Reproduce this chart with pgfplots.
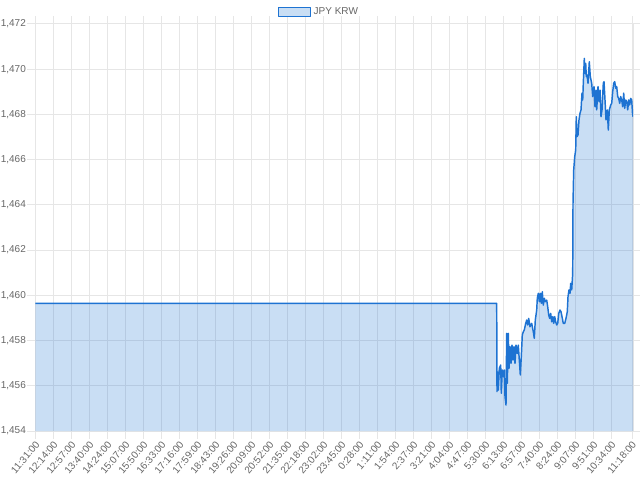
\documentclass[border=0pt]{standalone}
\usepackage{fontspec}
\setmainfont{Liberation Sans}
\usepackage{pgfplots}
\usepackage{pgfplotstable}
\pgfplotsset{compat=1.18}

\definecolor{lineblue}{RGB}{30,115,210}
\definecolor{gridgray}{RGB}{230,230,230}
\definecolor{labelgray}{RGB}{102,102,102}

% x = position along the category axis (tick every 18 units), y = JPY KRW rate
\pgfplotstableread{
x y
0 1459.65
461.2 1459.65
461.5 1455.74
461.8 1456.62
462.8 1455.81
463.8 1456.77
465.2 1456.92
465.8 1455.67
466.8 1456.70
467.8 1456.40
468.8 1456.70
469.5 1455.52
470.5 1455.15
471.2 1458.32
471.8 1456.11
472.8 1458.32
473.5 1456.77
474.5 1457.73
475.5 1456.99
476.5 1457.80
477.5 1457.14
478.5 1457.73
479.5 1456.99
480.5 1457.80
481.8 1457.43
482.8 1457.80
483.8 1457.14
484.8 1456.48
485.8 1457.29
486.8 1458.25
487.8 1458.39
488.8 1458.47
490.2 1458.76
491.2 1458.91
492.2 1458.69
493.2 1458.98
494.5 1458.61
496.2 1458.76
497.8 1458.39
498.8 1458.10
499.8 1458.91
501.2 1459.35
501.8 1459.87
502.8 1460.09
503.8 1459.72
504.8 1460.09
505.8 1459.65
506.8 1460.16
507.8 1459.57
508.8 1459.87
509.8 1459.72
511.2 1459.79
512.2 1459.50
513.2 1459.13
514.2 1458.98
515.2 1459.20
516.2 1458.83
517.2 1459.06
518.2 1458.76
519.2 1459.06
520.2 1458.83
521.2 1458.69
522.2 1458.76
523.2 1459.20
524.5 1459.35
525.5 1459.28
526.5 1459.06
527.8 1458.76
529.2 1458.76
530.5 1458.98
531.8 1459.28
532.5 1459.94
533.5 1460.24
534.5 1460.09
535.2 1460.53
536.2 1460.24
537.2 1460.97
537.5 1464.07
538.2 1465.54
539.2 1466.13
540.2 1466.43
540.8 1467.90
541.5 1467.02
542.5 1467.09
543.5 1467.76
544.5 1468.05
545.5 1468.20
546.5 1468.94
547.2 1468.64
547.8 1469.38
548.8 1470.48
549.5 1469.82
550.2 1470.26
550.8 1469.67
551.5 1469.75
552.5 1469.38
553.8 1470.33
554.8 1469.67
556.2 1469.38
557.2 1468.79
558.5 1469.23
559.5 1468.34
560.5 1469.08
561.2 1468.20
562.5 1469.23
563.5 1468.57
564.5 1469.08
565.5 1467.90
566.5 1468.20
567.8 1469.38
568.5 1469.45
569.5 1468.64
570.5 1467.76
571.2 1467.90
571.8 1468.20
572.8 1467.31
573.8 1468.20
575.2 1468.42
576.2 1468.49
577.2 1469.01
578.2 1469.38
579.2 1469.45
580.2 1469.16
581.2 1469.23
582.2 1468.79
583.2 1468.71
584.2 1468.49
585.2 1468.79
586.2 1468.64
587.2 1468.34
588.2 1468.94
589.2 1468.27
590.2 1468.64
591.2 1468.57
592.2 1468.20
593.2 1468.64
594.2 1468.42
595.2 1468.71
596.2 1468.64
597.0 1468.05
597.5 1467.90
}\jpykrw

\begin{document}
\begin{tikzpicture}
\begin{axis}[
    scale only axis,
    width=448.1pt, height=305.25pt,
    xmin=0, xmax=597.5,
    ymin=1454, ymax=1472,
    enlargelimits=false,
    axis line style={gridgray, line width=0.75pt},
    grid=major,
    major grid style={gridgray, line width=0.75pt},
    tick align=outside,
    major tick length=6pt,
    tick style={gridgray, line width=0.75pt},
    xtick={0,18,36,54,72,90,108,126,144,162,180,198,216,234,252,270,288,306,324,342,360,378,396,414,432,450,468,486,504,522,540,558,576,596.5},
    xticklabels={11:31:00,12:14:00,12:57:00,13:40:00,14:24:00,15:07:00,15:50:00,16:33:00,17:16:00,17:59:00,18:43:00,19:26:00,20:09:00,20:52:00,21:35:00,22:18:00,23:02:00,23:45:00,0:28:00,1:11:00,1:54:00,2:37:00,3:21:00,4:04:00,4:47:00,5:30:00,6:13:00,6:57:00,7:40:00,8:24:00,9:07:00,9:51:00,10:34:00,11:18:00},
    xticklabel style={rotate=50, anchor=east, font=\fontsize{7.5}{9}\selectfont, text=labelgray, inner sep=1pt, yshift=-3pt},
    ytick={1454,1456,1458,1460,1462,1464,1466,1468,1470,1472},
    yticklabel style={font=\fontsize{7.5}{9}\selectfont, text=labelgray, inner sep=1pt},
    /pgf/number format/.cd, 1000 sep={,}, assume math mode=true,
    /pgfplots/.cd,
    legend style={at={(0.475,1)}, anchor=center, yshift=8.9pt, draw=none, fill=none,
        font=\fontsize{7.5}{9}\selectfont, text=labelgray},
    legend image code/.code={\draw[draw=lineblue, fill=lineblue, fill opacity=0.24, line width=0.75pt] (0pt,-3.5pt) rectangle (24pt,3.5pt);},
]
\addplot[draw=none, fill=lineblue, fill opacity=0.24, forget plot] table[x=x, y=y] {\jpykrw} \closedcycle;
\addplot[lineblue, line width=1.1pt, line join=round] table[x=x, y=y] {\jpykrw};
\addlegendentry{JPY KRW}
\end{axis}
\pgfresetboundingbox
\path ([xshift=-26.6pt,yshift=-36.75pt]current axis.south west) rectangle ([xshift=5.25pt,yshift=18pt]current axis.north east);
\end{tikzpicture}
\end{document}
